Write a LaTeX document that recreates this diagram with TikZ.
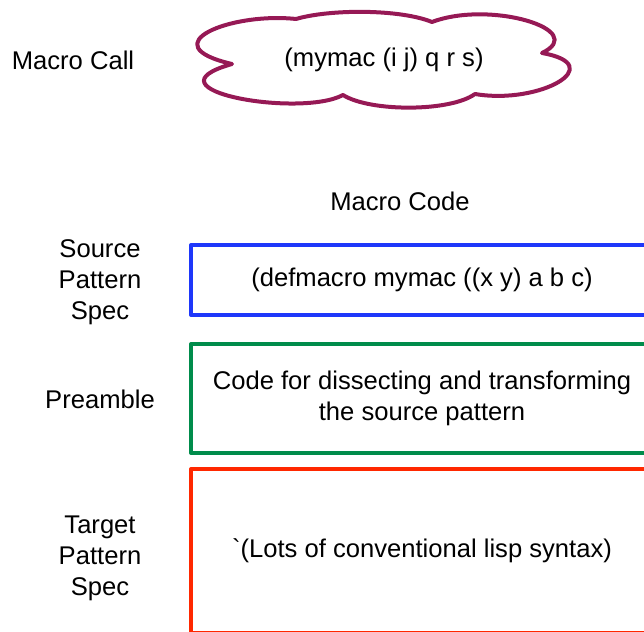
\documentclass[tikz,border=0pt]{standalone}
\usepackage{fontspec}
\setmainfont{Liberation Sans}[Ligatures=TeXOff]
\definecolor{cloudred}{RGB}{150,25,85}
\definecolor{specblue}{RGB}{30,55,250}
\definecolor{preamgreen}{RGB}{0,140,75}
\definecolor{targetred}{RGB}{255,40,0}
\begin{document}
\begin{tikzpicture}[x=1pt,y=-1pt, line join=round, line cap=round,
	font=\fontsize{25.6}{31}\selectfont,
	lbl/.style={align=center, inner sep=0pt},
	codebox/.style={draw, line width=4pt, minimum width=462pt, align=center, inner sep=0pt}]
	\def\bx{422} \def\lx{100} % centres of boxes and labels
	\useasboundingbox (0,0) rectangle (644,631);
	% cloud
	\draw[cloudred, line width=4pt] (232,64)
		.. controls (150,45) and (230,12) .. (296,19)
		.. controls (330,9) and (400,9) .. (432,22)
		.. controls (490,0) and (590,30) .. (542,53)
		.. controls (610,65) and (540,105) .. (475,94)
		.. controls (450,112) and (370,112) .. (343,95)
		.. controls (300,118) and (140,90) .. (232,64) -- cycle;
	\node[lbl] (call) at (384,60) {(mymac (i j) q r s)};
	\node[lbl] (calllbl) at (73,60) {Macro Call};
	\node[lbl] (code) at (400,201) {Macro Code};
	% boxes
	\node[codebox, specblue, text=black, minimum height=70pt] (source) at (\bx,280) {(defmacro mymac ((x y) a b c)};
	\node[codebox, preamgreen, text=black, minimum height=109pt] (preamble) at (\bx,398.5) {Code for dissecting and transforming\\the source pattern};
	\node[codebox, targetred, text=black, minimum height=164pt] (target) at (\bx,551) {`(Lots of conventional lisp syntax)};
	\node[lbl] (sourcelbl) at (\lx,282) {Source\\Pattern\\Spec};
	\node[lbl] (preamblelbl) at (\lx,399) {Preamble};
	\node[lbl] (targetlbl) at (\lx,558) {Target\\Pattern\\Spec};
\end{tikzpicture}
\end{document}
